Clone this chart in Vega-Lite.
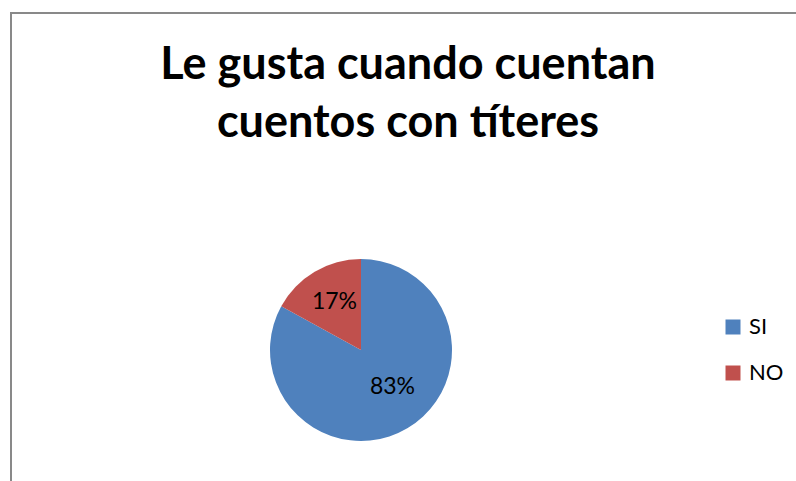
{
  "$schema": "https://vega.github.io/schema/vega-lite/v6.json",
  "width": 800,
  "height": 674,
  "autosize": {"type": "none"},
  "padding": {"left": 11, "top": 13, "right": 0, "bottom": 0},
  "background": "white",
  "view": {"stroke": "#898989", "strokeWidth": 2, "fill": "white"},
  "config": {
    "view": {"stroke": "#898989", "strokeWidth": 2},
    "font": "Lato"
  },
  "title": {
    "text": ["Le gusta cuando cuentan", "cuentos con títeres"],
    "font": "Lato",
    "fontSize": 45,
    "fontWeight": "bold",
    "color": "black",
    "anchor": "middle",
    "frame": "group",
    "baseline": "alphabetic",
    "lineHeight": 58,
    "dx": -3,
    "offset": -169
  },
  "data": {
    "values": [
      {"respuesta": "SI", "porcentaje": 83, "label": "83%"},
      {"respuesta": "NO", "porcentaje": 17, "label": "17%"}
    ]
  },
  "encoding": {
    "theta": {"field": "porcentaje", "type": "quantitative", "stack": true},
    "order": {"field": "porcentaje", "type": "quantitative", "sort": "descending"}
  },
  "layer": [
    {
      "mark": {"type": "arc", "outerRadius": 91, "xOffset": -50, "strokeWidth": 0},
      "encoding": {
        "color": {
          "field": "respuesta",
          "type": "nominal",
          "scale": {"domain": ["SI", "NO"], "range": ["#4F81BD", "#C0504D"]},
          "legend": {
            "title": null,
            "orient": "none",
            "legendX": 711,
            "legendY": 303,
            "symbolType": "square",
            "symbolSize": 225,
            "symbolStrokeWidth": 0,
            "labelFontSize": 22,
            "labelFont": "Lato",
            "labelColor": "black",
            "labelOffset": 5,
            "rowPadding": 24
          }
        }
      }
    },
    {
      "mark": {"type": "text", "radius": 56, "xOffset": -50, "dx": 2, "fontSize": 23, "font": "Lato", "color": "black"},
      "encoding": {
        "text": {"condition": {"test": "datum.respuesta === 'NO'", "field": "label"}, "value": ""}
      }
    },
    {
      "mark": {"type": "text", "radius": 50, "xOffset": -50, "dx": 6, "dy": -6, "fontSize": 23, "font": "Lato", "color": "black"},
      "encoding": {
        "text": {"condition": {"test": "datum.respuesta === 'SI'", "field": "label"}, "value": ""}
      }
    }
  ]
}
